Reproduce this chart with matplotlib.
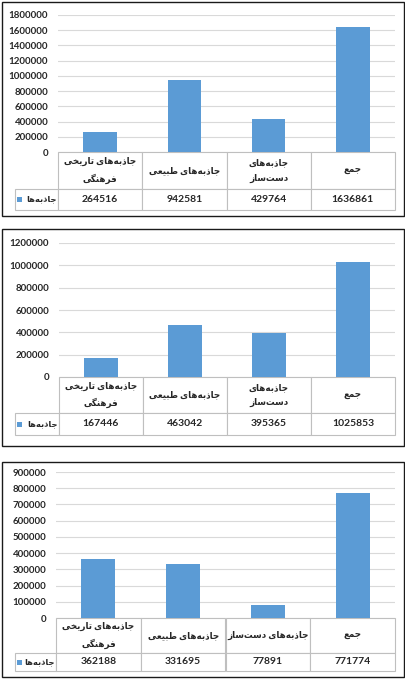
import matplotlib
matplotlib.use('Agg')
import matplotlib.pyplot as plt
from matplotlib.patches import Rectangle

# data
series_name = 'جاذبه\u200cها'
cats_two_line = ['جاذبه\u200cهای تاریخی\nفرهنگی', 'جاذبه\u200cهای طبیعی',
                 'جاذبه\u200cهای\nدست\u200cساز', 'جمع']
cats_one_line = ['جاذبه\u200cهای تاریخی\nفرهنگی', 'جاذبه\u200cهای طبیعی',
                 'جاذبه\u200cهای دست\u200cساز', 'جمع']
values_1 = [264516, 942581, 429764, 1636861]
values_2 = [167446, 463042, 395365, 1025853]
values_3 = [362188, 331695, 77891, 771774]
ymax_1, step_1 = 1800000, 200000
ymax_2, step_2 = 1200000, 200000
ymax_3, step_3 = 900000, 100000

# minimal arabic/persian shaping (matplotlib has no complex text layout)
FORMS = {
    'ا': ('\uFE8D', '\uFE8E', None, None),
    'ب': ('\uFE8F', '\uFE90', '\uFE91', '\uFE92'),
    'ت': ('\uFE95', '\uFE96', '\uFE97', '\uFE98'),
    'ج': ('\uFE9D', '\uFE9E', '\uFE9F', '\uFEA0'),
    'خ': ('\uFEA5', '\uFEA6', '\uFEA7', '\uFEA8'),
    'د': ('\uFEA9', '\uFEAA', None, None),
    'ذ': ('\uFEAB', '\uFEAC', None, None),
    'ر': ('\uFEAD', '\uFEAE', None, None),
    'ز': ('\uFEAF', '\uFEB0', None, None),
    'س': ('\uFEB1', '\uFEB2', '\uFEB3', '\uFEB4'),
    'ط': ('\uFEC1', '\uFEC2', '\uFEC3', '\uFEC4'),
    'ع': ('\uFEC9', '\uFECA', '\uFECB', '\uFECC'),
    'ف': ('\uFED1', '\uFED2', '\uFED3', '\uFED4'),
    'م': ('\uFEE1', '\uFEE2', '\uFEE3', '\uFEE4'),
    'ن': ('\uFEE5', '\uFEE6', '\uFEE7', '\uFEE8'),
    'ه': ('\uFEE9', '\uFEEA', '\uFEEB', '\uFEEC'),
    'گ': ('\uFB92', '\uFB93', '\uFB94', '\uFB95'),
    'ی': ('\uFBFC', '\uFBFD', '\uFBFE', '\uFBFF'),
}


def shape_line(s):
    out = []
    for i, ch in enumerate(s):
        if ch not in FORMS:
            if ch != '\u200c':
                out.append(ch)
            continue
        prev = s[i - 1] if i > 0 else ''
        nxt = s[i + 1] if i + 1 < len(s) else ''
        jp = prev in FORMS and FORMS[prev][2] is not None
        jn = nxt in FORMS and FORMS[ch][2] is not None
        iso, fin, ini, med = FORMS[ch]
        if jp and jn:
            out.append(med)
        elif jp:
            out.append(fin)
        elif jn:
            out.append(ini)
        else:
            out.append(iso)
    return ''.join(reversed(out))


def shape(s):
    return '\n'.join(shape_line(l) for l in s.split('\n'))


plt.rcParams['font.family'] = ['Lato', 'DejaVu Sans']
plt.rcParams['font.weight'] = 'bold'

W, H = 406, 681
fig = plt.figure(figsize=(W / 100, H / 100), dpi=100)

BLUE = '#5B9BD5'
GRID = '#D9D9D9'
EDGE = '#BFBFBF'
TXT = '#262626'

# panel boxes and plot areas in pixels: box (top, bottom), plot (left, right, top, bottom), table rows
panels = [
    (values_1, ymax_1, step_1, cats_two_line, (2, 216), (58, 395, 15, 152), (37, 21)),
    (values_2, ymax_2, step_2, cats_two_line, (229, 446), (59, 395, 243, 377), (36, 22)),
    (values_3, ymax_3, step_3, cats_one_line, (462, 677), (56, 395, 472, 618), (35, 18)),
]
legend_left = 15

for vals, ymax, step, cats, box, area, rows in panels:
    bt, bb = box
    fig.add_artist(Rectangle((2 / W, 1 - bb / H), 402 / W, (bb - bt) / H,
                             transform=fig.transFigure, fill=False,
                             edgecolor='#1a1a1a', lw=1.0))
    l, r, t, b = area
    ax = fig.add_axes([l / W, 1 - b / H, (r - l) / W, (b - t) / H])
    x = list(range(len(vals)))
    ax.bar(x, vals, width=0.4, color=BLUE, zorder=3)
    ax.set_xlim(-0.5, len(vals) - 0.5)
    ax.set_ylim(0, ymax)
    ax.set_yticks(range(0, ymax + 1, step))
    ax.set_yticklabels([str(v) for v in range(0, ymax + 1, step)])
    ax.tick_params(axis='y', length=0, pad=7, labelsize=7, labelcolor=TXT)
    ax.set_xticks([])
    ax.grid(axis='y', color=GRID, lw=0.8, zorder=0)
    for s in ax.spines.values():
        s.set_visible(False)

    # table sizes in axes units
    pw = r - l
    ph = b - t
    hh, dh = rows[0] / ph, rows[1] / ph
    colw = 1 / len(vals)
    labw = (l - legend_left) / pw
    # bbox covers the grid cells only; the legend cell hangs to the left
    tbl = ax.table(cellText=[[str(v) for v in vals]],
                   colLabels=[shape(c) for c in cats],
                   colWidths=[colw] * len(vals),
                   cellLoc='center',
                   bbox=[0, -(hh + dh), 1, hh + dh])
    lab = tbl.add_cell(1, -1, width=labw, height=dh,
                       text=shape(series_name), loc='right')
    tbl.auto_set_font_size(False)
    tbl.set_fontsize(7.5)
    for (ri, ci), cell in tbl.get_celld().items():
        cell.set_edgecolor(EDGE)
        cell.set_linewidth(0.8)
        cell.get_text().set_color(TXT)
        cell.get_text().set_fontweight('bold')
        cell.set_height(hh if ri == 0 else dh)
        if ri == 0:
            cell.get_text().set_fontsize(6.3)
            cell.get_text().set_linespacing(1.9)
    lab.PAD = 0.03
    lab.get_text().set_fontsize(6)

    # legend swatch inside the legend cell
    sq = 5
    ax.add_artist(Rectangle(((legend_left + 2 - l) / pw, -(hh + dh / 2) - sq / 2 / ph),
                            sq / pw, sq / ph, transform=ax.transAxes,
                            facecolor=BLUE, edgecolor='none', clip_on=False,
                            zorder=10))

fig.canvas.draw()
fig.savefig('out.png', dpi=100)
